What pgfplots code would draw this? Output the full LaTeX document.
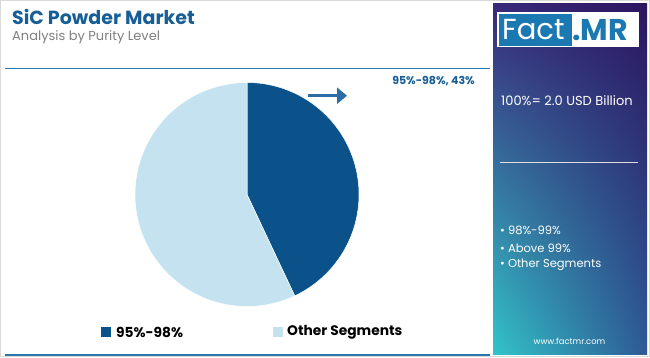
\documentclass[border=0pt]{standalone}
\usepackage{pgfplots}
\pgfplotsset{compat=1.18}
\usepackage{pgfplotstable}
\usetikzlibrary{shadings,arrows.meta}
\usepackage{fontspec}
\setmainfont{Poppins}
\definecolor{darkb}{HTML}{0A5289}
\definecolor{lightb}{HTML}{C5E2F0}
\definecolor{arrowb}{HTML}{2C6DA6}
\definecolor{titleb}{HTML}{175E96}
\definecolor{lineb}{HTML}{2A78AE}
\definecolor{logob}{HTML}{1B78B0}
\definecolor{gul}{HTML}{3A287A}
\definecolor{gur}{HTML}{2C1660}
\definecolor{gll}{HTML}{32C4C8}
\definecolor{glr}{HTML}{2E5A96}
\pgfplotstableread{
label value
A 43
B 57
}\piedata
\pgfplotstablegetelem{0}{value}\of\piedata \let\va\pgfplotsretval
\pgfplotstablegetelem{1}{value}\of\piedata \let\vb\pgfplotsretval
\pgfmathsetmacro{\aone}{90-3.6*\va}
\pgfmathsetmacro{\atwo}{90+3.6*\vb}
\begin{document}
\begin{tikzpicture}
\begin{scope}[x=1pt,y=-1pt]
\path[use as bounding box] (0,0) rectangle (650,357);
\fill[white] (0,0) rectangle (650,357);
\draw[gray!30, line width=1pt] (0.5,0.5) rectangle (649.5,356.5);
% right panel
\shade[upper left=gul, upper right=gur, lower left=gll, lower right=glr]
  (493,3) rectangle (647,354);
% logo
\fill[white] (497,12) rectangle (639,47);
\fill[logob] (499,13.5) rectangle (572,45.5);
\node[anchor=west, text=white, font=\fontsize{29}{29}\selectfont, inner sep=0] at (502,30) {Fact};
\node[anchor=west, text=logob, font=\fontsize{30}{30}\selectfont\bfseries, inner sep=0] at (572,30) {.MR};
\node[anchor=west, text=white, font=\fontsize{13}{15}\selectfont, inner sep=0] at (501,101) {100\%= 2.0 USD Billion};
\draw[white!75!gray, line width=1.2pt] (500,162.5) -- (638,162.5);
\node[anchor=west, text=white, font=\fontsize{11.5}{13}\selectfont, inner sep=0] at (500,230) {• 98\%-99\%};
\node[anchor=west, text=white, font=\fontsize{11.5}{13}\selectfont, inner sep=0] at (500,248) {• Above 99\%};
\node[anchor=west, text=white, font=\fontsize{11.5}{13}\selectfont, inner sep=0] at (500,265) {• Other Segments};
\node[text=white, font=\fontsize{8.4}{10}\selectfont, inner sep=0] at (569.5,341) {www.factmr.com};
% titles
\node[anchor=west, text=titleb, font=\fontsize{19}{21}\selectfont\bfseries, inner sep=0] at (12,17) {SiC Powder Market};
\node[anchor=west, text=gray, font=\fontsize{13}{15}\selectfont, inner sep=0] at (12,37) {Analysis by Purity Level};
\draw[lineb, line width=1.2pt] (5,68.5) -- (490,68.5);
\draw[lineb, line width=1.2pt] (5,355) -- (490,355);
% arrow and label
\draw[arrowb, line width=3.3pt, -{Triangle[length=10pt,width=16pt]}] (308,95.7) -- (347,95.7);
\node[anchor=east, text=titleb, font=\fontsize{11}{13}\selectfont\bfseries, inner sep=0] at (475,81) {95\%-98\%, 43\%};
% legend
\fill[darkb] (101,327) rectangle (110.5,336.5);
\node[anchor=west, font=\fontsize{13.8}{15}\selectfont\bfseries, inner sep=0] at (116,332) {95\%-98\%};
\fill[lightb] (273,327) rectangle (282.5,336.5);
\node[anchor=west, font=\fontsize{13.8}{15}\selectfont\bfseries, inner sep=0] at (287,332) {Other Segments};
\end{scope}
% pie
\begin{axis}[at={(247pt,-194.5pt)}, anchor=center, width=224pt, height=224pt, scale only axis,
  xmin=-1, xmax=1, ymin=-1, ymax=1, hide axis, clip=false]
\addplot[fill=darkb, draw=white, line width=0.5pt, domain=\aone:90, samples=120, variable=\t]
  ({cos(\t)},{sin(\t)}) -- (axis cs:0,0) -- cycle;
\addplot[fill=lightb, draw=white, line width=0.5pt, domain=90:\atwo, samples=160, variable=\t]
  ({cos(\t)},{sin(\t)}) -- (axis cs:0,0) -- cycle;
\end{axis}
\end{tikzpicture}
\end{document}
